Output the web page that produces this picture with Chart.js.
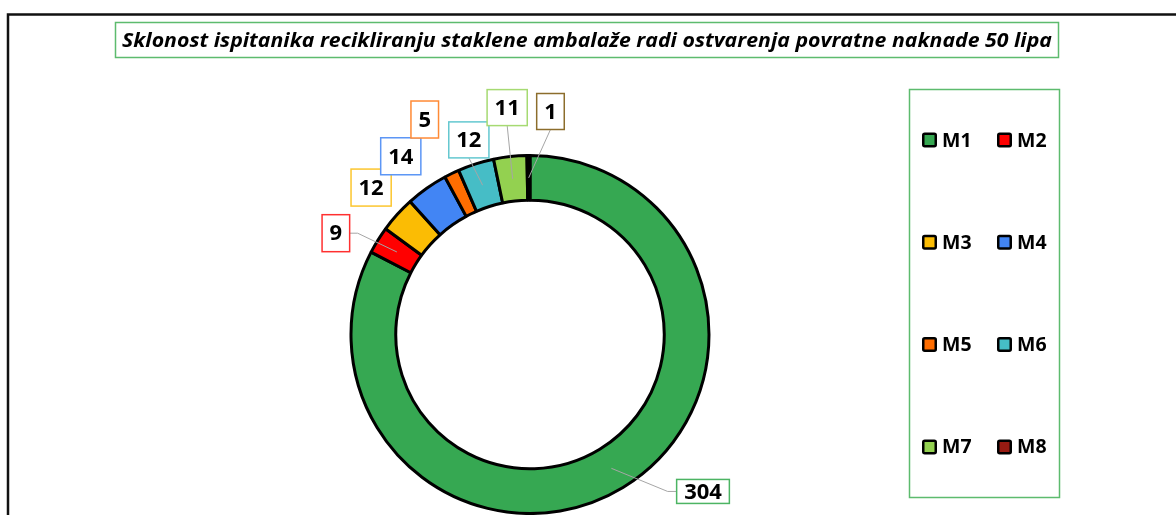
<!DOCTYPE html>
<html>
<head>
<meta charset="utf-8">
<script src="https://cdn.jsdelivr.net/npm/chart.js@4.4.1/dist/chart.umd.min.js"></script>
<style>
  html, body { margin: 0; padding: 0; background: #fff; }
  #wrap { width: 1176px; height: 515px; position: relative; }
</style>
</head>
<body>
<div id="wrap"><canvas id="ringChart" width="1176" height="515"></canvas></div>
<script>
// data
const titleText = 'Sklonost ispitanika recikliranju staklene ambalaže radi ostvarenja povratne naknade 50 lipa';
const categories = ['M1', 'M2', 'M3', 'M4', 'M5', 'M6', 'M7', 'M8'];
const values = [304, 9, 12, 14, 5, 12, 11, 1];

// colours
const sliceColors = ['#36A852', '#FF0000', '#FBBC04', '#4285F4', '#FF6D01', '#46BDC6', '#93D150', '#981B12'];
const labelBorders = ['#4CB463', '#FF3030', '#FCC62E', '#5C96F5', '#FF8A35', '#64C8D0', '#A6DA72', '#8C6D2C'];

// where each callout box sits, relative to the outer edge middle of its slice
const labelShift = [[80, 4], [-42, -7], [-26, -27], [-26, -32], [-27, -54], [-7, -24], [-3, -49], [22, -44]];
const labelBoxH = [24, 37, 37, 37, 37, 36, 36, 36];
const showLeader = [true, true, false, false, false, true, true, true];

const FONT = '"Open Sans", "Liberation Sans", sans-serif';
const GREEN_LINE = '#5DBB6E';

// frame, title, callouts and legend drawn by hand
const decorPlugin = {
  id: 'decor',
  beforeDraw(chart) {
    const c = chart.ctx;
    c.save();
    c.fillStyle = '#fff';
    c.fillRect(0, 0, chart.width, chart.height);
    c.restore();
  },
  afterDraw(chart) {
    const c = chart.ctx;
    c.save();

    // outer frame (runs off to the right and bottom)
    c.strokeStyle = '#111';
    c.lineWidth = 2.5;
    c.beginPath();
    c.moveTo(8, 520);
    c.lineTo(8, 14.5);
    c.lineTo(1180, 14.5);
    c.stroke();

    // title box, text stretched to the width of the original
    c.strokeStyle = GREEN_LINE;
    c.lineWidth = 1.5;
    c.strokeRect(115.5, 22.5, 943, 35);
    c.fillStyle = '#000';
    c.font = 'italic bold 19.5px ' + FONT;
    c.textAlign = 'center';
    c.textBaseline = 'alphabetic';
    const tw = c.measureText(titleText).width;
    c.save();
    c.translate(587, 47);
    c.scale(930 / tw, 1);
    c.fillText(titleText, 0, 0);
    c.restore();

    // callouts
    const meta = chart.getDatasetMeta(0);
    c.font = 'bold 22px ' + FONT;
    c.textBaseline = 'middle';
    meta.data.forEach((arc, i) => {
      const p = arc.getProps(['x', 'y', 'startAngle', 'endAngle', 'outerRadius', 'innerRadius'], true);
      const mid = (p.startAngle + p.endAngle) / 2;
      const ox = p.x + Math.cos(mid) * p.outerRadius;
      const oy = p.y + Math.sin(mid) * p.outerRadius;
      const rm = (p.outerRadius + p.innerRadius) / 2;
      const ex = p.x + Math.cos(mid) * rm;
      const ey = p.y + Math.sin(mid) * rm;
      const cx = ox + labelShift[i][0];
      const cy = oy + labelShift[i][1];
      const txt = String(values[i]);
      const w = c.measureText(txt).width + 15;
      const h = labelBoxH[i];

      if (showLeader[i]) {
        c.strokeStyle = '#A6A6A6';
        c.lineWidth = 1;
        c.beginPath();
        const dx = labelShift[i][0], dy = labelShift[i][1];
        if (Math.abs(dx) > Math.abs(dy)) {
          const sx = dx < 0 ? cx + w / 2 : cx - w / 2;
          const kx = dx < 0 ? sx + 8 : sx - 9;
          c.moveTo(sx, cy);
          c.lineTo(kx, cy);
          c.lineTo(ex, ey);
        } else {
          c.moveTo(cx, cy + h / 2);
          c.lineTo(ex, ey);
        }
        c.stroke();
      }

      c.fillStyle = '#fff';
      c.fillRect(cx - w / 2, cy - h / 2, w, h);
      c.strokeStyle = labelBorders[i];
      c.lineWidth = 1.5;
      c.strokeRect(cx - w / 2, cy - h / 2, w, h);
      c.fillStyle = '#000';
      c.textAlign = 'center';
      c.fillText(txt, cx, cy + 1);
    });

    // legend box, two columns
    c.strokeStyle = GREEN_LINE;
    c.lineWidth = 1.5;
    c.strokeRect(909.5, 89.5, 150, 408);
    c.font = 'bold 19.5px ' + FONT;
    c.textAlign = 'left';
    c.textBaseline = 'middle';
    categories.forEach((name, i) => {
      const col = i % 2;
      const row = Math.floor(i / 2);
      const x = 922 + col * 75;
      const y = 140 + row * 102.3;
      c.fillStyle = sliceColors[i];
      c.strokeStyle = '#000';
      c.lineWidth = 2.5;
      c.beginPath();
      c.roundRect(x + 1.25, y - 6.25, 12.5, 12.5, 1.5);
      c.fill();
      c.stroke();
      c.fillStyle = '#000';
      c.fillText(name, x + 20, y + 1);
    });

    c.restore();
  }
};

const ctx = document.getElementById('ringChart').getContext('2d');
const ringChart = new Chart(ctx, {
  type: 'doughnut',
  data: {
    labels: categories,
    datasets: [{
      data: values,
      backgroundColor: sliceColors,
      borderColor: '#000',
      borderWidth: 3,
      hoverOffset: 0
    }]
  },
  options: {
    responsive: false,
    animation: false,
    cutout: '75%',
    layout: { padding: { left: 349, right: 465, top: 154, bottom: 0 } },
    plugins: {
      legend: { display: false },
      title: { display: false },
      tooltip: { enabled: false }
    }
  },
  plugins: [decorPlugin]
});
</script>
</body>
</html>
